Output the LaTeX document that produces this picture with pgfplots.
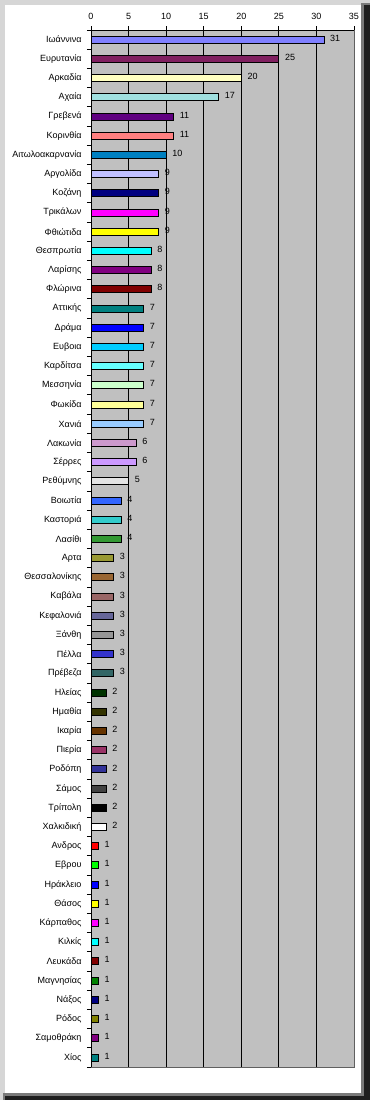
\documentclass[border=0pt]{standalone}
\usepackage{fontspec}
\setmainfont{Liberation Sans}
\usepackage{pgfplots}
\pgfplotsset{compat=1.18}
\definecolor{plotgray}{HTML}{C0C0C0}
\definecolor{framelight}{HTML}{D6D6D6}
\definecolor{framemid}{HTML}{7A7A7A}
\definecolor{framedark}{HTML}{1E1E1E}
\definecolor{c0}{HTML}{8080FF}
\definecolor{c1}{HTML}{802060}
\definecolor{c2}{HTML}{FFFFC0}
\definecolor{c3}{HTML}{A0E0E0}
\definecolor{c4}{HTML}{600080}
\definecolor{c5}{HTML}{FF8080}
\definecolor{c6}{HTML}{0080C0}
\definecolor{c7}{HTML}{C0C0FF}
\definecolor{c8}{HTML}{000080}
\definecolor{c9}{HTML}{FF00FF}
\definecolor{c10}{HTML}{FFFF00}
\definecolor{c11}{HTML}{00FFFF}
\definecolor{c12}{HTML}{800080}
\definecolor{c13}{HTML}{800000}
\definecolor{c14}{HTML}{008080}
\definecolor{c15}{HTML}{0000FF}
\definecolor{c16}{HTML}{00CCFF}
\definecolor{c17}{HTML}{66FFFF}
\definecolor{c18}{HTML}{CCFFCC}
\definecolor{c19}{HTML}{FFFF99}
\definecolor{c20}{HTML}{99CCFF}
\definecolor{c21}{HTML}{CC99CC}
\definecolor{c22}{HTML}{CC99FF}
\definecolor{c23}{HTML}{E3E3E3}
\definecolor{c24}{HTML}{3366FF}
\definecolor{c25}{HTML}{33CCCC}
\definecolor{c26}{HTML}{339933}
\definecolor{c27}{HTML}{999933}
\definecolor{c28}{HTML}{996633}
\definecolor{c29}{HTML}{996666}
\definecolor{c30}{HTML}{666699}
\definecolor{c31}{HTML}{969696}
\definecolor{c32}{HTML}{3333CC}
\definecolor{c33}{HTML}{336666}
\definecolor{c34}{HTML}{003300}
\definecolor{c35}{HTML}{333300}
\definecolor{c36}{HTML}{663300}
\definecolor{c37}{HTML}{993366}
\definecolor{c38}{HTML}{333399}
\definecolor{c39}{HTML}{424242}
\definecolor{c40}{HTML}{000000}
\definecolor{c41}{HTML}{FFFFFF}
\definecolor{c42}{HTML}{FF0000}
\definecolor{c43}{HTML}{00FF00}
\definecolor{c44}{HTML}{0000FF}
\definecolor{c45}{HTML}{FFFF00}
\definecolor{c46}{HTML}{FF00FF}
\definecolor{c47}{HTML}{00FFFF}
\definecolor{c48}{HTML}{800000}
\definecolor{c49}{HTML}{008000}
\definecolor{c50}{HTML}{000080}
\definecolor{c51}{HTML}{808000}
\definecolor{c52}{HTML}{800080}
\definecolor{c53}{HTML}{008080}
\begin{document}
\begin{tikzpicture}[x=1pt,y=1pt]
\useasboundingbox (0,0) rectangle (370,1100);
\fill[framelight] (0,0) rectangle (370,1100);
\fill[framemid] (3,0) rectangle (370,7);
\fill[framemid] (361,0) rectangle (370,1097);
\fill[framedark] (5,0) rectangle (370,4);
\fill[framedark] (364,0) rectangle (370,1095);
\fill[white] (5,7) rectangle (361,1095);
\begin{axis}[
  at={(91pt,33pt)}, anchor=south west,
  scale only axis, width=263pt, height=1037pt,
  xmin=0, xmax=35, ymin=-0.5, ymax=53.5, y dir=reverse,
  axis x line*=top, axis y line*=left,
  axis line style={black, line width=0.9pt},
  axis background/.style={fill=plotgray, draw=gray!75!black, line width=0.8pt},
  tick align=outside,
  major tick length=0pt, minor tick length=4pt,
  tick style={black, line width=0.8pt},
  xtick={0,5,...,35},
  minor xtick={0,5,...,35},
  extra x ticks={5,10,...,30},
  extra x tick labels={},
  extra x tick style={grid=major, major grid style={black, line width=0.9pt}},
  ytick={0,...,53},
  minor ytick={-0.5,0.5,...,53.5},
  yticklabels={Ιωάννινα,Ευρυτανία,Αρκαδία,Αχαία,Γρεβενά,Κορινθία,Αιτωλοακαρνανία,Αργολίδα,Κοζάνη,Τρικάλων,Φθιώτιδα,Θεσπρωτία,Λαρίσης,Φλώρινα,Αττικής,Δράμα,Ευβοια,Καρδίτσα,Μεσσηνία,Φωκίδα,Χανιά,Λακωνία,Σέρρες,Ρεθύμνης,Βοιωτία,Καστοριά,Λασίθι,Αρτα,Θεσσαλονίκης,Καβάλα,Κεφαλονιά,Ξάνθη,Πέλλα,Πρέβεζα,Ηλείας,Ημαθία,Ικαρία,Πιερία,Ροδόπη,Σάμος,Τρίπολη,Χαλκιδική,Ανδρος,Εβρου,Ηράκλειο,Θάσος,Κάρπαθος,Κιλκίς,Λευκάδα,Μαγνησίας,Νάξος,Ρόδος,Σαμοθράκη,Χίος},
  tick label style={font=\fontsize{9}{10}\selectfont},
  yticklabel style={xshift=-6pt},
  xticklabel style={yshift=7pt},
  /pgf/number format/assume math mode=true,
  xbar, bar width=7pt, bar shift=0pt,
  nodes near coords,
  every node near coord/.append style={font=\fontsize{9}{10}\selectfont, xshift=2.5pt, yshift=1.5pt, black},
  clip=false,
]
\addplot[fill=c0, draw=black, line width=0.8pt] coordinates {(31,0)};
\addplot[fill=c1, draw=black, line width=0.8pt] coordinates {(25,1)};
\addplot[fill=c2, draw=black, line width=0.8pt] coordinates {(20,2)};
\addplot[fill=c3, draw=black, line width=0.8pt] coordinates {(17,3)};
\addplot[fill=c4, draw=black, line width=0.8pt] coordinates {(11,4)};
\addplot[fill=c5, draw=black, line width=0.8pt] coordinates {(11,5)};
\addplot[fill=c6, draw=black, line width=0.8pt] coordinates {(10,6)};
\addplot[fill=c7, draw=black, line width=0.8pt] coordinates {(9,7)};
\addplot[fill=c8, draw=black, line width=0.8pt] coordinates {(9,8)};
\addplot[fill=c9, draw=black, line width=0.8pt] coordinates {(9,9)};
\addplot[fill=c10, draw=black, line width=0.8pt] coordinates {(9,10)};
\addplot[fill=c11, draw=black, line width=0.8pt] coordinates {(8,11)};
\addplot[fill=c12, draw=black, line width=0.8pt] coordinates {(8,12)};
\addplot[fill=c13, draw=black, line width=0.8pt] coordinates {(8,13)};
\addplot[fill=c14, draw=black, line width=0.8pt] coordinates {(7,14)};
\addplot[fill=c15, draw=black, line width=0.8pt] coordinates {(7,15)};
\addplot[fill=c16, draw=black, line width=0.8pt] coordinates {(7,16)};
\addplot[fill=c17, draw=black, line width=0.8pt] coordinates {(7,17)};
\addplot[fill=c18, draw=black, line width=0.8pt] coordinates {(7,18)};
\addplot[fill=c19, draw=black, line width=0.8pt] coordinates {(7,19)};
\addplot[fill=c20, draw=black, line width=0.8pt] coordinates {(7,20)};
\addplot[fill=c21, draw=black, line width=0.8pt] coordinates {(6,21)};
\addplot[fill=c22, draw=black, line width=0.8pt] coordinates {(6,22)};
\addplot[fill=c23, draw=black, line width=0.8pt] coordinates {(5,23)};
\addplot[fill=c24, draw=black, line width=0.8pt] coordinates {(4,24)};
\addplot[fill=c25, draw=black, line width=0.8pt] coordinates {(4,25)};
\addplot[fill=c26, draw=black, line width=0.8pt] coordinates {(4,26)};
\addplot[fill=c27, draw=black, line width=0.8pt] coordinates {(3,27)};
\addplot[fill=c28, draw=black, line width=0.8pt] coordinates {(3,28)};
\addplot[fill=c29, draw=black, line width=0.8pt] coordinates {(3,29)};
\addplot[fill=c30, draw=black, line width=0.8pt] coordinates {(3,30)};
\addplot[fill=c31, draw=black, line width=0.8pt] coordinates {(3,31)};
\addplot[fill=c32, draw=black, line width=0.8pt] coordinates {(3,32)};
\addplot[fill=c33, draw=black, line width=0.8pt] coordinates {(3,33)};
\addplot[fill=c34, draw=black, line width=0.8pt] coordinates {(2,34)};
\addplot[fill=c35, draw=black, line width=0.8pt] coordinates {(2,35)};
\addplot[fill=c36, draw=black, line width=0.8pt] coordinates {(2,36)};
\addplot[fill=c37, draw=black, line width=0.8pt] coordinates {(2,37)};
\addplot[fill=c38, draw=black, line width=0.8pt] coordinates {(2,38)};
\addplot[fill=c39, draw=black, line width=0.8pt] coordinates {(2,39)};
\addplot[fill=c40, draw=black, line width=0.8pt] coordinates {(2,40)};
\addplot[fill=c41, draw=black, line width=0.8pt] coordinates {(2,41)};
\addplot[fill=c42, draw=black, line width=0.8pt] coordinates {(1,42)};
\addplot[fill=c43, draw=black, line width=0.8pt] coordinates {(1,43)};
\addplot[fill=c44, draw=black, line width=0.8pt] coordinates {(1,44)};
\addplot[fill=c45, draw=black, line width=0.8pt] coordinates {(1,45)};
\addplot[fill=c46, draw=black, line width=0.8pt] coordinates {(1,46)};
\addplot[fill=c47, draw=black, line width=0.8pt] coordinates {(1,47)};
\addplot[fill=c48, draw=black, line width=0.8pt] coordinates {(1,48)};
\addplot[fill=c49, draw=black, line width=0.8pt] coordinates {(1,49)};
\addplot[fill=c50, draw=black, line width=0.8pt] coordinates {(1,50)};
\addplot[fill=c51, draw=black, line width=0.8pt] coordinates {(1,51)};
\addplot[fill=c52, draw=black, line width=0.8pt] coordinates {(1,52)};
\addplot[fill=c53, draw=black, line width=0.8pt] coordinates {(1,53)};
\end{axis}
\end{tikzpicture}
\end{document}
